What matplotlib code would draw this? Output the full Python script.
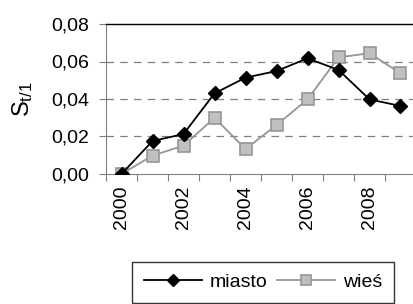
import matplotlib.pyplot as plt

plt.rcParams["font.family"] = ["Liberation Sans", "DejaVu Sans"]
plt.rcParams["mathtext.fontset"] = "custom"
plt.rcParams["mathtext.rm"] = "Liberation Sans"
plt.rcParams["mathtext.it"] = "Liberation Sans"

years = ["2000", "2001", "2002", "2003", "2004",
         "2005", "2006", "2007", "2008", "2009"]
miasto = [0.000, 0.0176, 0.0213, 0.0430, 0.0514,
          0.0549, 0.0617, 0.0555, 0.0398, 0.0363]
wies = [0.000, 0.0098, 0.0151, 0.0300, 0.0133,
        0.0261, 0.0398, 0.0622, 0.0644, 0.0537]
y_ticks = [0.00, 0.02, 0.04, 0.06, 0.08]
y_labels = ["0,00", "0,02", "0,04", "0,06", "0,08"]

fig = plt.figure(figsize=(4.14, 3.04), dpi=100)
ax = fig.add_axes([106 / 414, 1 - 174 / 304, 310 / 414, 150 / 304])

x = list(range(len(years)))

ax.plot(x, miasto, color="black", linewidth=1.3, marker="D",
        markersize=7.5, markerfacecolor="black", markeredgecolor="black",
        label="miasto", zorder=3)
ax.plot(x, wies, color="#969696", linewidth=1.3, marker="s",
        markersize=8.5, markerfacecolor="#c0c0c0", markeredgecolor="#969696",
        markeredgewidth=1.2, label="wieś", zorder=2)

ax.set_xlim(-0.5, len(years) - 0.5)
ax.set_ylim(0, 0.08)

# category boundaries carry the tick marks, labels on every second year
ax.set_xticks([i - 0.5 for i in range(len(years) + 1)])
ax.set_xticklabels([])
ax.set_xticks(x[::2], minor=True)
ax.set_xticklabels(years[::2], minor=True, rotation=90, fontsize=14)
ax.tick_params(axis="x", which="major", direction="out", length=5,
               color="#808080")
ax.tick_params(axis="x", which="minor", length=0, pad=8)

ax.set_yticks(y_ticks)
ax.set_yticklabels(y_labels, fontsize=14)
ax.tick_params(axis="y", direction="out", length=5, color="#808080", pad=7)

for val in y_ticks[1:4]:
    ax.axhline(val, color="#808080", linewidth=0.9, linestyle=(0, (6, 5)),
               zorder=1)

ax.spines["top"].set_color("black")
ax.spines["top"].set_linewidth(1.0)
ax.spines["left"].set_color("#808080")
ax.spines["bottom"].set_color("#808080")
ax.spines["right"].set_visible(False)

ax.set_ylabel(r"$\mathrm{S}_{t/1}$", fontsize=17, labelpad=12)

leg = fig.legend(loc="upper center", bbox_to_anchor=(263 / 414, 1 - 262 / 304),
                 ncol=2, frameon=True, fancybox=False, fontsize=14,
                 handlelength=3.0, columnspacing=0.5, handletextpad=0.4,
                 borderpad=0.6, borderaxespad=0, markerscale=0.85)
leg.get_frame().set_edgecolor("black")
leg.get_frame().set_linewidth(1.0)

fig.savefig("out.png", dpi=100)
